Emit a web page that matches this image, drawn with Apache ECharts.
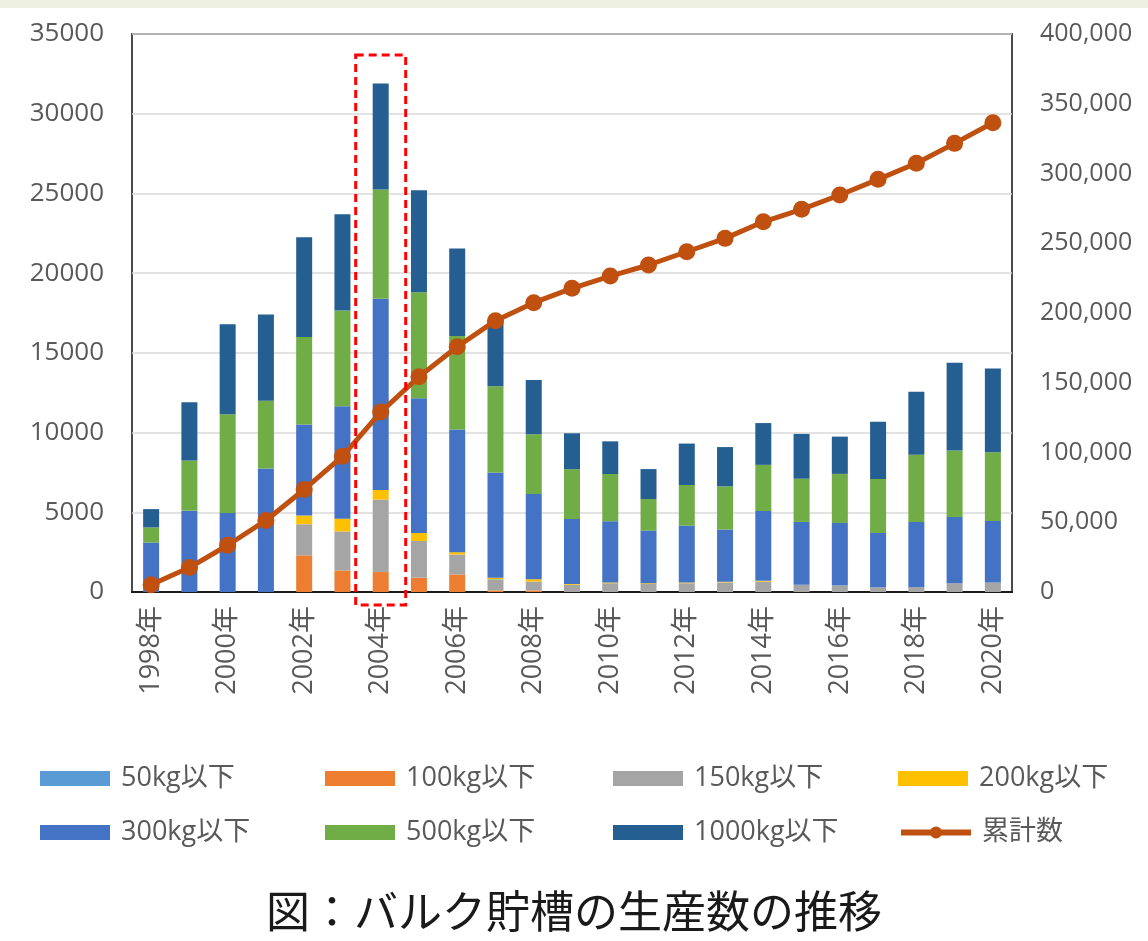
<!DOCTYPE html>
<html>
<head>
<meta charset="utf-8">
<script src="https://cdn.jsdelivr.net/npm/echarts@6/dist/echarts.min.js"></script>
<style>
html,body{margin:0;padding:0;background:#ffffff;}
#c{width:1148px;height:941px;}
</style>
</head>
<body>
<div id="c"></div>
<script>
const years = ['1998年','1999年','2000年','2001年','2002年','2003年','2004年','2005年','2006年','2007年','2008年','2009年','2010年','2011年','2012年','2013年','2014年','2015年','2016年','2017年','2018年','2019年','2020年'];
const leftTicks = [0,5000,10000,15000,20000,25000,30000,35000];
const rightTicks = [0,50000,100000,150000,200000,250000,300000,350000,400000];
const kg50   = [0,0,0,0,0,0,0,0,0,0,0,0,0,0,0,0,0,0,0,0,0,0,0];
const kg100  = [0,0,0,0,2300,1350,1250,900,1100,100,100,0,0,0,0,0,0,0,0,0,0,0,0];
const kg150  = [0,0,0,0,1950,2450,4550,2300,1250,700,550,450,550,500,550,600,650,450,400,300,300,550,600];
const kg200  = [0,0,0,0,550,800,600,500,150,100,150,50,50,50,50,50,50,0,0,0,0,0,0];
const kg300  = [3100,5100,4950,7750,5700,7050,12000,8450,7700,6600,5350,4080,3840,3300,3570,3270,4380,3945,3930,3400,4095,4160,3860];
const kg500  = [950,3150,6200,4250,5500,6000,6850,6650,5850,5400,3750,3125,2960,1980,2540,2710,2895,2710,3080,3395,4210,4165,4310];
const kg1000 = [1150,3650,5650,5400,6250,6050,6650,6400,5500,4200,3400,2250,2050,1880,2600,2460,2620,2810,2335,3590,3955,5500,5250];
const cumulative = [5200,17500,33500,51300,73500,97300,129000,154300,175800,194500,207400,217700,226500,234400,243900,253500,265400,274300,284600,295800,307300,321600,336400];
const seriesNames = ['50kg以下','100kg以下','150kg以下','200kg以下','300kg以下','500kg以下','1000kg以下','累計数'];
const highlightYear = '2004年';
const titleText = '図：バルク貯槽の生産数の推移';

const colors = ['#5B9BD5','#ED7D31','#A5A5A5','#FFC000','#4472C4','#70AD47','#255E91','#C0500F'];
const FONT = "'Open Sans','Noto Sans CJK JP',sans-serif";
const barData = [kg50,kg100,kg150,kg200,kg300,kg500,kg1000];

const chart = echarts.init(document.getElementById('c'), null, {renderer:'canvas'});

const barSeries = barData.map((d,i)=>({
  name: seriesNames[i], type:'bar', stack:'total', data:d, barWidth:16,
  itemStyle:{color:colors[i]}, yAxisIndex:0, z:2
}));

const legendPos = [[35,760],[320,760],[608,760],[893,760],[35,814],[320,814],[608,814],[893,814]];
const legends = seriesNames.map((n,i)=>({
  data:[n], left:legendPos[i][0], top:legendPos[i][1], itemWidth:70, itemHeight:15,
  itemGap:0, selectedMode:false,
  icon: i < 7 ? 'rect' : undefined,
  lineStyle: i === 7 ? {width:6} : undefined,
  textStyle:{color:'#595959', fontSize:27, fontFamily:FONT, padding:[0,0,0,6]}
}));

chart.setOption({
  animation:false,
  backgroundColor:'#ffffff',
  color: colors,
  grid:{left:132, right:136, top:34, bottom:349, show:true, borderColor:'#4a4a4a', borderWidth:2, containLabel:false},
  legend: legends,
  title:{text:titleText, left:'center', top:884, textStyle:{fontSize:44, fontWeight:'normal', color:'#1a1a1a', fontFamily:"'Noto Sans CJK JP',sans-serif"}},
  xAxis:{type:'category', data:years, boundaryGap:true,
    axisLine:{lineStyle:{color:'#1a1a1a', width:2}}, axisTick:{show:false},
    axisLabel:{interval:1, rotate:90, color:'#595959', fontSize:27, fontFamily:FONT, margin:14}},
  yAxis:[
    {type:'value', min:leftTicks[0], max:leftTicks[leftTicks.length-1], interval:5000, position:'left',
      axisLine:{show:false}, axisTick:{show:false},
      splitLine:{lineStyle:{color:'#d9d9d9', width:1.5}},
      axisLabel:{color:'#595959', fontSize:26, fontFamily:FONT, margin:28, formatter:v=>String(v)}},
    {type:'value', min:rightTicks[0], max:rightTicks[rightTicks.length-1], interval:50000, position:'right',
      axisLine:{show:false}, axisTick:{show:false}, splitLine:{show:false},
      axisLabel:{color:'#595959', fontSize:25, fontFamily:FONT, margin:28, align:'left',
        formatter:v=>v.toLocaleString('en-US')}}
  ],
  series: barSeries.concat([{
    name: seriesNames[7], type:'line', yAxisIndex:1, data:cumulative,
    symbol:'circle', symbolSize:17, itemStyle:{color:colors[7]},
    lineStyle:{color:colors[7], width:5}, z:5
  }])
});

// red dashed annotation box around highlighted year
const cx = chart.convertToPixel({xAxisIndex:0}, highlightYear);
const gridTop = 34, gridBottom = 941-349;
chart.setOption({
  graphic:[
    {type:'rect', left:0, top:0, shape:{x:0,y:0,width:1148,height:8}, style:{fill:'#eef0e2'}, silent:true},
    {type:'rect', shape:{x:cx-25, y:gridTop+21, width:50, height:gridBottom+13-(gridTop+21)},
     style:{fill:'none', stroke:'#ff0000', lineWidth:3, lineDash:[8,5]}, z:100, silent:true}
  ]
});
</script>
</body>
</html>
